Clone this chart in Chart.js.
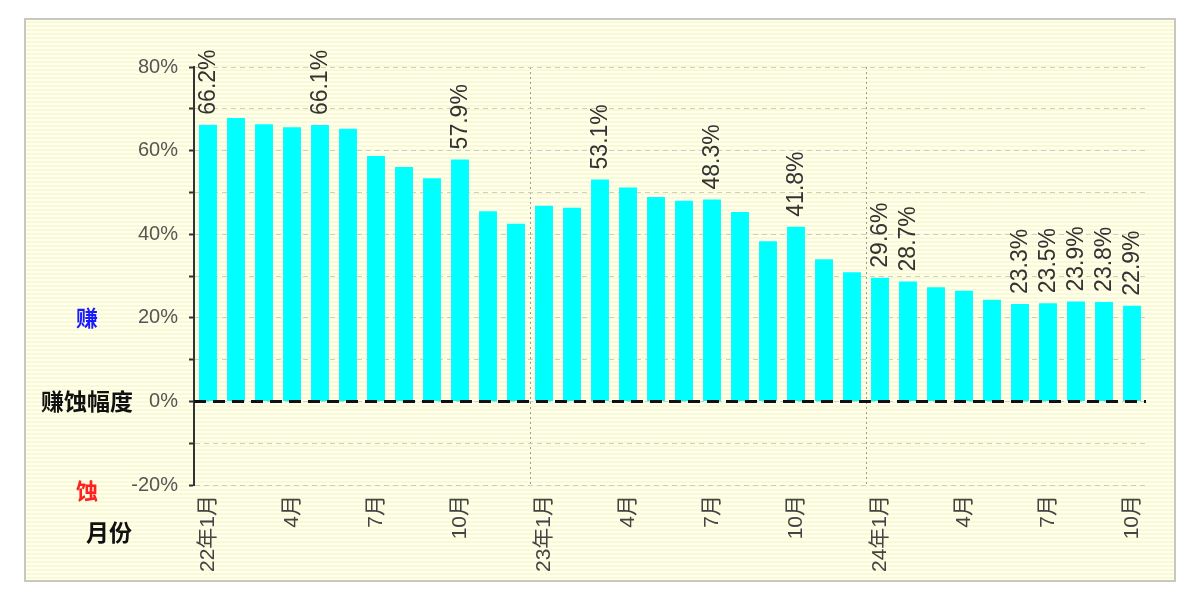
<!DOCTYPE html>
<html>
<head>
<meta charset="utf-8">
<script src="https://cdn.jsdelivr.net/npm/chart.js@4"></script>
<style>
  html, body { margin: 0; padding: 0; background: #fff; }
  #wrap { width: 1200px; height: 603px; }
</style>
</head>
<body>
<div id="wrap"><canvas id="chart" width="1200" height="603"></canvas></div>
<script>
// months, 22年1月 .. 24年10月
const months = [
  '22年1月','2月','3月','4月','5月','6月','7月','8月','9月','10月','11月','12月',
  '23年1月','2月','3月','4月','5月','6月','7月','8月','9月','10月','11月','12月',
  '24年1月','2月','3月','4月','5月','6月','7月','8月','9月','10月'
];
// 赚蚀幅度 (%)
const values = [
  66.2, 67.8, 66.3, 65.6, 66.1, 65.2, 58.7, 56.1, 53.4, 57.9, 45.5, 42.5,
  46.8, 46.3, 53.1, 51.2, 48.9, 48.0, 48.3, 45.3, 38.3, 41.8, 34.0, 30.9,
  29.6, 28.7, 27.3, 26.5, 24.3, 23.3, 23.5, 23.9, 23.8, 22.9
];
// which bars get a value label
const labelled = [0, 4, 9, 14, 18, 21, 24, 25, 29, 30, 31, 32, 33];
// y axis
const yMin = -20, yMax = 80, yStep = 10;

const CJK = "'Noto Sans CJK SC', 'Liberation Sans', sans-serif";
const LAT = "'Liberation Sans', Arial, 'Noto Sans CJK SC', sans-serif";

// background, frame, side texts, zero line, value labels
const decor = {
  id: 'decor',
  beforeDraw(chart) {
    const ctx = chart.ctx;
    ctx.save();
    ctx.fillStyle = '#ffffff';
    ctx.fillRect(0, 0, chart.width, chart.height);
    const x0 = 25, y0 = 19, x1 = 1175, y1 = 581;
    ctx.fillStyle = '#fffff4';
    ctx.fillRect(x0, y0, x1 - x0, y1 - y0);
    ctx.fillStyle = '#fafad0';
    for (let y = y0 + 2; y < y1; y += 4) ctx.fillRect(x0, y, x1 - x0, 2);
    ctx.strokeStyle = '#c8c8c0';
    ctx.lineWidth = 2;
    ctx.strokeRect(x0, y0, x1 - x0, y1 - y0);
    ctx.restore();
  },
  afterDatasetsDraw(chart) {
    const ctx = chart.ctx;
    const xs = chart.scales.x, ys = chart.scales.y;
    const area = chart.chartArea;
    ctx.save();
    // zero line
    const y0 = ys.getPixelForValue(0);
    ctx.strokeStyle = '#111';
    ctx.lineWidth = 3;
    ctx.setLineDash([12, 7]);
    ctx.beginPath();
    ctx.moveTo(area.left, y0);
    ctx.lineTo(area.right, y0);
    ctx.stroke();
    ctx.setLineDash([]);

    // value labels
    ctx.fillStyle = '#333';
    ctx.font = '23px ' + LAT;
    ctx.textAlign = 'left';
    ctx.textBaseline = 'middle';
    labelled.forEach(i => {
      const x = xs.getPixelForValue(i);
      const y = ys.getPixelForValue(values[i]);
      ctx.save();
      ctx.translate(x, y - 10);
      ctx.rotate(-Math.PI / 2);
      ctx.fillText(values[i].toFixed(1) + '%', 0, 1);
      ctx.restore();
    });

    // side texts
    ctx.textAlign = 'center';
    ctx.textBaseline = 'middle';
    ctx.font = 'bold 22px ' + CJK;
    ctx.fillStyle = '#1a1aff';
    ctx.fillText('赚', 87, ys.getPixelForValue(20));
    ctx.fillStyle = '#111';
    ctx.font = 'bold 23px ' + CJK;
    ctx.fillText('赚蚀幅度', 87, ys.getPixelForValue(0));
    ctx.fillStyle = '#ff2020';
    ctx.font = 'bold 22px ' + CJK;
    ctx.fillText('蚀', 87, ys.getPixelForValue(-20) + 6);
    ctx.fillStyle = '#111';
    ctx.font = 'bold 23px ' + CJK;
    ctx.fillText('月份', 109, 532);
    ctx.restore();
  }
};

new Chart(document.getElementById('chart'), {
  type: 'bar',
  data: {
    labels: months,
    datasets: [{
      data: values,
      backgroundColor: '#00ffff',
      borderWidth: 0,
      categoryPercentage: 1,
      barPercentage: 0.64
    }]
  },
  options: {
    responsive: false,
    animation: false,
    layout: { padding: { left: 0, right: 54, top: 67, bottom: 0 } },
    plugins: { legend: { display: false }, tooltip: { enabled: false } },
    scales: {
      x: {
        afterFit(scale) { scale.height = 118; },
        border: { display: false, dash: [2, 3] },
        grid: {
          offset: true,
          drawTicks: false,
          color: c => (c.index === 12 || c.index === 24) ? '#999' : 'rgba(0,0,0,0)',
          lineWidth: 1
        },
        ticks: {
          autoSkip: false,
          maxRotation: 90,
          minRotation: 90,
          padding: 10,
          color: '#444',
          font: { family: LAT, size: 21 },
          callback: (v, i) => (i % 3 === 0) ? months[i] : ''
        }
      },
      y: {
        min: yMin,
        max: yMax,
        afterFit(scale) { scale.width = 194; },
        border: { display: true, color: '#333', width: 2, dash: [5, 4] },
        grid: {
          color: '#cfcfc0',
          lineWidth: 1,
          tickLength: 5,
          tickColor: '#333',
          tickWidth: 2,
          tickBorderDash: []
        },
        ticks: {
          stepSize: yStep,
          padding: 11,
          color: '#555',
          font: { family: LAT, size: 20 },
          callback: v => (v % 20 === 0) ? v + '%' : ''
        }
      }
    }
  },
  plugins: [decor]
});
</script>
</body>
</html>
